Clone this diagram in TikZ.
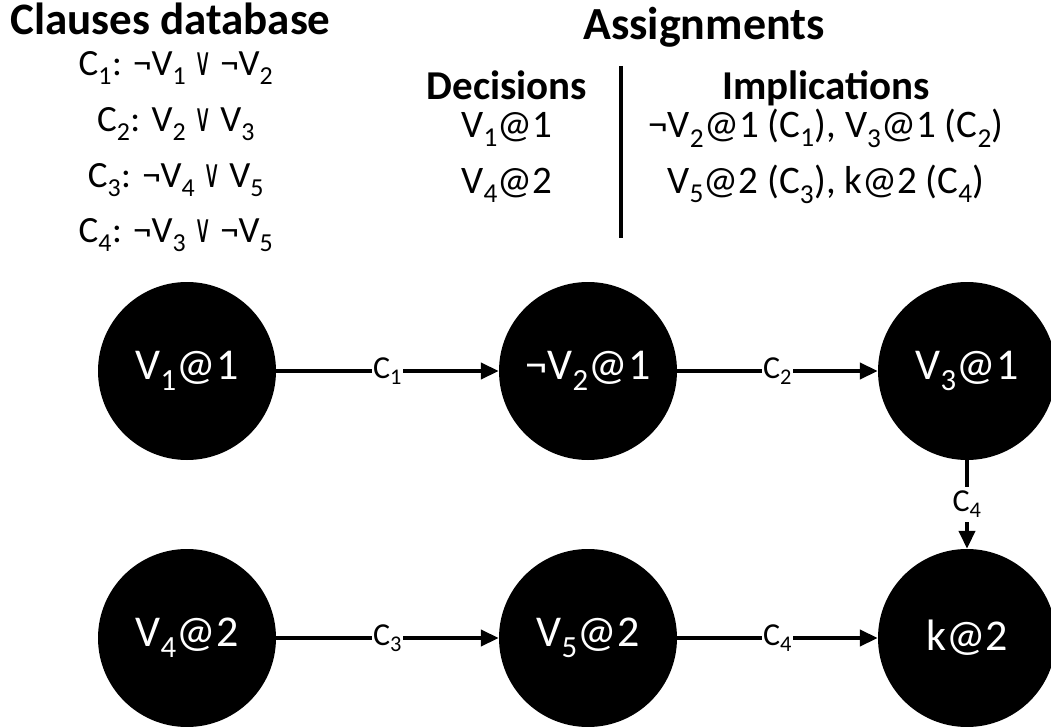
\documentclass[tikz,border=0pt]{standalone}
\usepackage{fontspec}
\setmainfont{Carlito}
\newfontfamily\symfont{DejaVu Sans}
\usetikzlibrary{arrows.meta}
% small helpers for indices and the "or" sign
\newcommand{\lo}[1]{\textsubscript{#1}}
\newcommand{\orsym}{\scalebox{0.85}[1.4]{\symfont\fontsize{28}{28}\selectfont ∨}}

\begin{document}
\begin{tikzpicture}[x=1pt,y=-1pt,
  var/.style={circle, fill=black, minimum size=178pt, inner sep=0pt,
              text=white, font=\fontsize{44}{50}\selectfont},
  link/.style={line width=4pt, -{Triangle[length=18pt,width=16pt]}},
  lbl/.style={fill=white, inner xsep=1.5pt, inner ysep=1pt,
              font=\fontsize{32}{36}\selectfont},
  title/.style={font=\fontsize{45}{54}\selectfont\bfseries},
  head/.style={font=\fontsize{41}{48}\selectfont\bfseries},
  body/.style={font=\fontsize{39}{46}\selectfont},
  clause/.style={font=\fontsize{37}{44}\selectfont}]
\useasboundingbox (0,0) rectangle (1051,727);

% ---- clause database ----
\node[title, anchor=base west, inner sep=0pt] (cdb) at (10,35) {Clauses database};
\node[clause, anchor=base, inner sep=0pt] (cl1) at (176,76)  {C\lo{1}: ¬V\lo{1} \orsym{} ¬V\lo{2}};
\node[clause, anchor=base, inner sep=0pt] (cl2) at (176,132) {C\lo{2}: V\lo{2} \orsym{} V\lo{3}};
\node[clause, anchor=base, inner sep=0pt] (cl3) at (176,188) {C\lo{3}: ¬V\lo{4} \orsym{} V\lo{5}};
\node[clause, anchor=base, inner sep=0pt] (cl4) at (176,243) {C\lo{4}: ¬V\lo{3} \orsym{} ¬V\lo{5}};

% ---- assignments table ----
\node[title, anchor=base, inner sep=0pt, font=\fontsize{46}{54}\selectfont\bfseries] (asg) at (704,40) {Assignments};
\node[head, anchor=base, inner sep=0pt] (dec) at (507,100) {Decisions};
\node[head, anchor=base, inner sep=0pt] (imp) at (826,100) {Implications};
\node[body, anchor=base, inner sep=0pt] (d1) at (507,138) {V\lo{1}@1};
\node[body, anchor=base, inner sep=0pt] (d2) at (507,194) {V\lo{4}@2};
\node[body, anchor=base, inner sep=0pt] (i1) at (826,138) {¬V\lo{2}@1 (C\lo{1}), V\lo{3}@1 (C\lo{2})};
\node[body, anchor=base, inner sep=0pt] (i2) at (826,194) {V\lo{5}@2 (C\lo{3}), k@2 (C\lo{4})};
\draw[line width=4.5pt] (621,66) -- (621,238);

% ---- implication graph ----
\node[var] (v1) at (187,371) {V\lo{1}@1};
\node[var] (v2) at (588,371) {¬V\lo{2}@1};
\node[var] (v3) at (967,371) {V\lo{3}@1};
\node[var] (v4) at (187,638) {V\lo{4}@2};
\node[var] (v5) at (588,638) {V\lo{5}@2};
\node[var] (k)  at (967,638) {k@2};

\draw[link] (v1) -- node[lbl] {C\lo{1}} (v2);
\draw[link] (v2) -- node[lbl] {C\lo{2}} (v3);
\draw[link] (v3) -- node[lbl, inner ysep=4pt] {C\lo{4}} (k);
\draw[link] (v4) -- node[lbl] {C\lo{3}} (v5);
\draw[link] (v5) -- node[lbl] {C\lo{4}} (k);
\end{tikzpicture}
\end{document}
